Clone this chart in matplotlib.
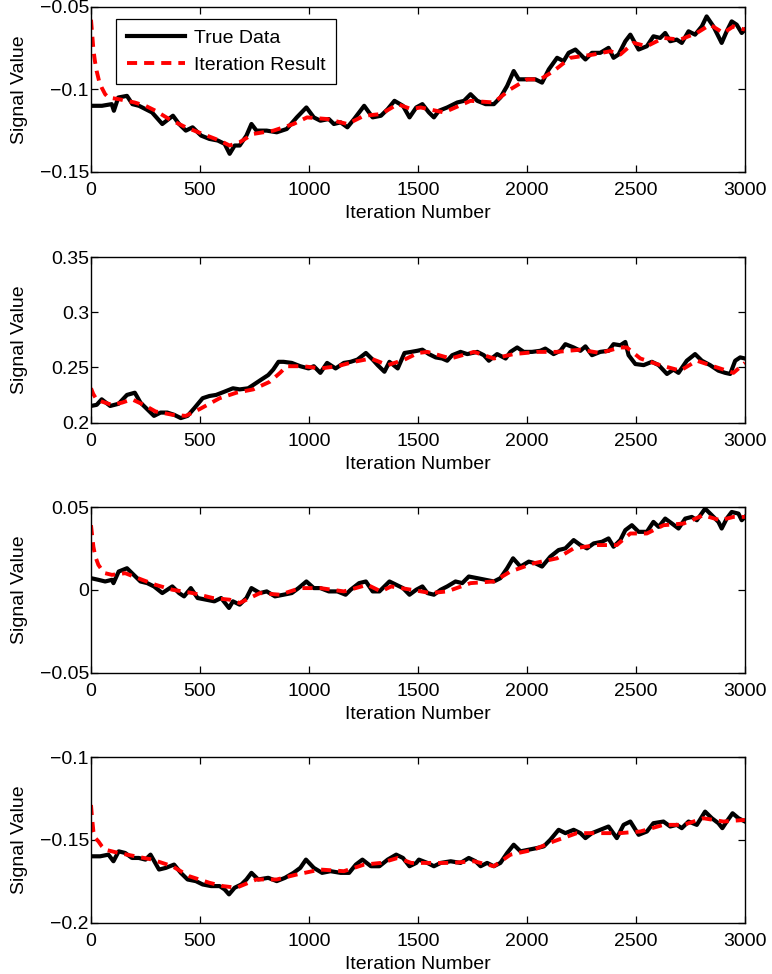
import matplotlib
matplotlib.use("Agg")
import matplotlib.pyplot as plt

plt.rcParams['font.family'] = ['Liberation Sans', 'DejaVu Sans']

# ---------------- data ----------------
x1_true = [0, 50, 95, 105, 125, 165, 190, 220, 250, 280, 327, 376, 404, 435, 466, 505, 543, 582, 613, 636,
           659, 682, 713, 736, 759, 806, 852, 898, 944, 988, 1022, 1052, 1091, 1114, 1145, 1176, 1207, 1253,
           1292, 1330, 1361, 1392, 1431, 1461, 1492, 1520, 1550, 1573, 1596, 1634, 1680, 1711, 1741, 1772,
           1810, 1848, 1878, 1909, 1939, 1962, 2000, 2038, 2069, 2100, 2138, 2168, 2191, 2222, 2245, 2268,
           2298, 2336, 2374, 2397, 2420, 2451, 2474, 2512, 2550, 2580, 2611, 2634, 2657, 2687, 2710, 2741,
           2771, 2802, 2824, 2855, 2893, 2916, 2939, 2962, 2985, 3000]
y1_true = [-0.110, -0.110, -0.109, -0.113, -0.105, -0.104, -0.109, -0.110, -0.112, -0.114, -0.121, -0.116,
           -0.121, -0.125, -0.123, -0.128, -0.130, -0.131, -0.133, -0.139, -0.134, -0.134, -0.128, -0.121,
           -0.125, -0.125, -0.126, -0.124, -0.117, -0.111, -0.117, -0.119, -0.118, -0.121, -0.120, -0.123,
           -0.118, -0.110, -0.117, -0.116, -0.112, -0.107, -0.110, -0.117, -0.111, -0.109, -0.114, -0.117,
           -0.113, -0.111, -0.108, -0.107, -0.103, -0.107, -0.109, -0.109, -0.105, -0.098, -0.089, -0.094,
           -0.094, -0.094, -0.096, -0.088, -0.081, -0.083, -0.078, -0.076, -0.079, -0.082, -0.078, -0.078,
           -0.075, -0.081, -0.079, -0.071, -0.067, -0.076, -0.074, -0.068, -0.069, -0.066, -0.071, -0.070,
           -0.072, -0.065, -0.067, -0.062, -0.056, -0.062, -0.072, -0.065, -0.059, -0.061, -0.066, -0.064]
x1_iter = [0, 5, 11, 18, 26, 37, 49, 65, 80, 127, 200, 250, 296, 358, 435, 512, 590, 636, 682, 744, 837, 929,
           991, 1083, 1176, 1253, 1330, 1407, 1469, 1512, 1619, 1741, 1848, 1924, 2000, 2061, 2122, 2199, 2306,
           2382, 2428, 2489, 2550, 2626, 2703, 2779, 2840, 2901, 2947, 3000]
y1_iter = [-0.058, -0.066, -0.076, -0.083, -0.089, -0.095, -0.099, -0.103, -0.105, -0.106, -0.108, -0.110,
           -0.113, -0.118, -0.123, -0.127, -0.131, -0.134, -0.132, -0.127, -0.125, -0.121, -0.117, -0.118,
           -0.121, -0.116, -0.115, -0.109, -0.112, -0.111, -0.114, -0.107, -0.108, -0.100, -0.094, -0.094,
           -0.089, -0.081, -0.079, -0.077, -0.079, -0.072, -0.074, -0.069, -0.070, -0.066, -0.061, -0.066,
           -0.062, -0.064]

x2_true = [0, 26, 49, 88, 127, 165, 201, 227, 258, 289, 319, 350, 381, 412, 443, 474, 512, 543, 574, 613, 651,
           682, 721, 744, 782, 813, 836, 860, 883, 921, 960, 998, 1022, 1052, 1083, 1122, 1160, 1191, 1222, 1261,
           1292, 1315, 1346, 1369, 1407, 1438, 1469, 1497, 1520, 1550, 1581, 1611, 1634, 1657, 1695, 1726, 1772,
           1802, 1825, 1863, 1902, 1924, 1955, 1985, 2023, 2061, 2084, 2122, 2153, 2176, 2214, 2245, 2268, 2298,
           2336, 2374, 2397, 2428, 2451, 2466, 2497, 2535, 2573, 2604, 2642, 2672, 2695, 2733, 2771, 2802, 2840,
           2878, 2909, 2932, 2955, 2978, 3000]
y2_true = [0.215, 0.216, 0.221, 0.215, 0.217, 0.225, 0.227, 0.218, 0.212, 0.206, 0.209, 0.209, 0.207, 0.204,
           0.206, 0.213, 0.222, 0.224, 0.225, 0.228, 0.231, 0.230, 0.231, 0.234, 0.239, 0.243, 0.248, 0.255,
           0.255, 0.254, 0.251, 0.249, 0.251, 0.245, 0.254, 0.249, 0.254, 0.255, 0.257, 0.263, 0.257, 0.252,
           0.246, 0.255, 0.249, 0.263, 0.264, 0.265, 0.266, 0.262, 0.259, 0.258, 0.256, 0.261, 0.264, 0.262,
           0.264, 0.261, 0.256, 0.262, 0.258, 0.264, 0.268, 0.264, 0.264, 0.265, 0.267, 0.262, 0.265, 0.271,
           0.268, 0.265, 0.269, 0.261, 0.264, 0.265, 0.271, 0.270, 0.273, 0.261, 0.253, 0.252, 0.255, 0.252,
           0.244, 0.248, 0.245, 0.256, 0.262, 0.256, 0.252, 0.247, 0.245, 0.244, 0.256, 0.259, 0.258]
x2_iter = [0, 10, 25, 49, 96, 142, 188, 242, 296, 373, 435, 497, 590, 667, 744, 821, 867, 898, 975, 1052, 1130,
           1207, 1284, 1361, 1438, 1500, 1543, 1650, 1757, 1848, 1939, 2046, 2138, 2245, 2336, 2428, 2458, 2520,
           2611, 2703, 2779, 2870, 2947, 3000]
y2_iter = [0.231, 0.226, 0.221, 0.219, 0.216, 0.218, 0.221, 0.216, 0.210, 0.207, 0.206, 0.212, 0.222, 0.227,
           0.230, 0.237, 0.245, 0.251, 0.251, 0.249, 0.251, 0.255, 0.258, 0.252, 0.257, 0.263, 0.264, 0.258,
           0.264, 0.258, 0.262, 0.264, 0.264, 0.266, 0.263, 0.268, 0.268, 0.258, 0.252, 0.247, 0.256, 0.250,
           0.245, 0.254]

x3_true = [0, 34, 65, 96, 103, 127, 165, 196, 227, 258, 289, 327, 373, 404, 427, 458, 489, 528, 566, 597, 633,
           651, 682, 713, 736, 775, 806, 844, 883, 921, 952, 988, 1022, 1052, 1091, 1130, 1168, 1191, 1230, 1261,
           1292, 1323, 1369, 1400, 1431, 1461, 1492, 1520, 1543, 1573, 1604, 1634, 1672, 1703, 1733, 1772, 1810,
           1848, 1878, 1909, 1936, 1970, 2008, 2038, 2069, 2107, 2145, 2176, 2214, 2245, 2275, 2306, 2344, 2374,
           2397, 2428, 2451, 2481, 2512, 2550, 2580, 2604, 2634, 2665, 2695, 2726, 2756, 2779, 2817, 2848, 2878,
           2893, 2916, 2939, 2970, 2985, 3000]
y3_true = [0.007, 0.006, 0.005, 0.006, 0.004, 0.011, 0.013, 0.009, 0.005, 0.004, 0.002, -0.002, 0.002, -0.002,
           -0.004, 0.001, -0.005, -0.006, -0.007, -0.005, -0.011, -0.007, -0.009, -0.005, 0.001, -0.002, -0.001,
           -0.004, -0.003, -0.002, 0.001, 0.005, 0.001, 0.001, -0.001, -0.001, -0.003, 0.000, 0.004, 0.005,
           -0.001, -0.001, 0.005, 0.003, 0.001, -0.003, 0.000, 0.002, -0.002, -0.003, 0.000, 0.002, 0.005,
           0.004, 0.008, 0.007, 0.006, 0.005, 0.007, 0.013, 0.019, 0.014, 0.017, 0.016, 0.014, 0.020, 0.024,
           0.025, 0.030, 0.027, 0.025, 0.028, 0.029, 0.031, 0.026, 0.030, 0.036, 0.039, 0.035, 0.035, 0.041,
           0.038, 0.043, 0.040, 0.037, 0.043, 0.044, 0.042, 0.049, 0.045, 0.041, 0.037, 0.043, 0.047, 0.046,
           0.042, 0.044]
x3_iter = [0, 5, 11, 20, 34, 50, 65, 96, 157, 235, 296, 373, 466, 559, 636, 682, 775, 867, 960, 1052, 1160,
           1268, 1330, 1377, 1469, 1558, 1634, 1741, 1848, 1924, 2031, 2138, 2214, 2321, 2412, 2474, 2550, 2626,
           2718, 2809, 2886, 2947, 3000]
y3_iter = [0.039, 0.033, 0.026, 0.020, 0.015, 0.012, 0.010, 0.009, 0.010, 0.006, 0.003, 0.000, -0.002, -0.005,
           -0.006, -0.008, -0.002, -0.003, 0.001, 0.001, -0.001, 0.003, -0.001, 0.002, 0.000, -0.002, -0.001,
           0.004, 0.005, 0.011, 0.016, 0.019, 0.025, 0.027, 0.027, 0.034, 0.034, 0.039, 0.040, 0.045, 0.042,
           0.044, 0.044]

x4_true = [0, 42, 80, 103, 127, 157, 188, 219, 250, 273, 312, 343, 381, 412, 443, 481, 512, 551, 590, 613, 633,
           659, 690, 713, 736, 767, 813, 852, 890, 929, 960, 986, 1022, 1060, 1099, 1145, 1184, 1215, 1245, 1284,
           1323, 1361, 1400, 1431, 1461, 1492, 1504, 1543, 1573, 1604, 1650, 1695, 1733, 1764, 1787, 1817, 1848,
           1878, 1909, 1939, 1970, 2008, 2046, 2077, 2107, 2145, 2176, 2214, 2245, 2268, 2298, 2336, 2374, 2412,
           2443, 2474, 2512, 2550, 2580, 2626, 2657, 2687, 2710, 2741, 2779, 2817, 2848, 2878, 2896, 2916, 2943,
           2970, 3000]
y4_true = [-0.160, -0.160, -0.159, -0.163, -0.157, -0.158, -0.161, -0.161, -0.162, -0.159, -0.168, -0.167,
           -0.165, -0.170, -0.174, -0.175, -0.177, -0.178, -0.178, -0.180, -0.183, -0.179, -0.177, -0.174,
           -0.170, -0.174, -0.173, -0.175, -0.173, -0.170, -0.167, -0.162, -0.167, -0.170, -0.169, -0.170,
           -0.170, -0.165, -0.162, -0.166, -0.166, -0.162, -0.159, -0.161, -0.166, -0.164, -0.162, -0.164,
           -0.166, -0.164, -0.163, -0.164, -0.161, -0.163, -0.166, -0.164, -0.166, -0.164, -0.158, -0.153,
           -0.157, -0.156, -0.155, -0.154, -0.150, -0.144, -0.146, -0.144, -0.146, -0.149, -0.146, -0.144,
           -0.142, -0.149, -0.141, -0.139, -0.147, -0.145, -0.140, -0.139, -0.142, -0.141, -0.143, -0.139,
           -0.141, -0.133, -0.137, -0.140, -0.143, -0.139, -0.134, -0.137, -0.139]
x4_iter = [0, 5, 11, 20, 34, 50, 65, 127, 204, 281, 373, 450, 543, 605, 667, 759, 852, 944, 1052, 1160, 1253,
           1330, 1407, 1469, 1558, 1650, 1757, 1848, 1924, 2031, 2122, 2229, 2336, 2428, 2520, 2626, 2718, 2809,
           2901, 3000]
y4_iter = [-0.129, -0.137, -0.145, -0.149, -0.151, -0.154, -0.156, -0.158, -0.160, -0.162, -0.166, -0.172,
           -0.176, -0.178, -0.179, -0.174, -0.174, -0.171, -0.168, -0.169, -0.165, -0.164, -0.161, -0.164,
           -0.164, -0.164, -0.163, -0.166, -0.159, -0.156, -0.151, -0.146, -0.146, -0.146, -0.145, -0.141,
           -0.141, -0.137, -0.139, -0.138]

xticks = [0, 500, 1000, 1500, 2000, 2500, 3000]
xtick_labels = ['0', '500', '1000', '1500', '2000', '2500', '3000']
panel_ylims = [(-0.15, -0.05), (0.2, 0.35), (-0.05, 0.05), (-0.2, -0.1)]
panel_yticks = [[-0.15, -0.1, -0.05], [0.2, 0.25, 0.3, 0.35], [-0.05, 0, 0.05], [-0.2, -0.15, -0.1]]
panel_ytick_labels = [['\u22120.15', '\u22120.1', '\u22120.05'], ['0.2', '0.25', '0.3', '0.35'],
                      ['\u22120.05', '0', '0.05'], ['\u22120.2', '\u22120.15', '\u22120.1']]
series = [(x1_true, y1_true, x1_iter, y1_iter), (x2_true, y2_true, x2_iter, y2_iter),
          (x3_true, y3_true, x3_iter, y3_iter), (x4_true, y4_true, x4_iter, y4_iter)]

# ---------------- figure ----------------
W, H = 772, 974
fig = plt.figure(figsize=(W / 100, H / 100), dpi=100)
tops = [6.5, 257, 507, 757]
left_px, right_px, ax_h = 91, 745, 165.5
FS = 14

for i, (xt, yt, xi, yi) in enumerate(series):
    ax = fig.add_axes([left_px / W, 1 - (tops[i] + ax_h) / H, (right_px - left_px) / W, ax_h / H])
    ax.plot(xt, yt, color='black', lw=3.0, solid_joinstyle='round', label='True Data')
    ax.plot(xi, yi, color='#ff0000', lw=2.8, dashes=(2.6, 1.8), label='Iteration Result')
    ax.set_xlim(0, 3000)
    ax.set_ylim(*panel_ylims[i])
    ax.set_xticks(xticks)
    ax.set_xticklabels(xtick_labels)
    ax.set_yticks(panel_yticks[i])
    ax.set_yticklabels(panel_ytick_labels[i])
    ax.tick_params(direction='in', top=True, right=True, length=5, width=0.9,
                   labelsize=FS)
    ax.tick_params(axis='x', pad=7.5)
    ax.tick_params(axis='y', pad=1.5)
    for s in ax.spines.values():
        s.set_linewidth(1.0)
    ax.set_xlabel('Iteration Number', fontsize=FS)
    ax.set_ylabel('Signal Value', fontsize=FS)
    ax.xaxis.set_label_coords(0.5, -0.2)
    ax.yaxis.set_label_coords(-0.097, 0.5)
    if i == 0:
        leg = ax.legend(loc='upper left', bbox_to_anchor=(0.038, 0.925), borderaxespad=0,
                        fontsize=FS, fancybox=False, edgecolor='black', framealpha=1,
                        handlelength=3.0, handletextpad=0.45, borderpad=0.55, labelspacing=0.45)
        leg.get_frame().set_linewidth(0.9)

fig.savefig('out.png', dpi=100)
